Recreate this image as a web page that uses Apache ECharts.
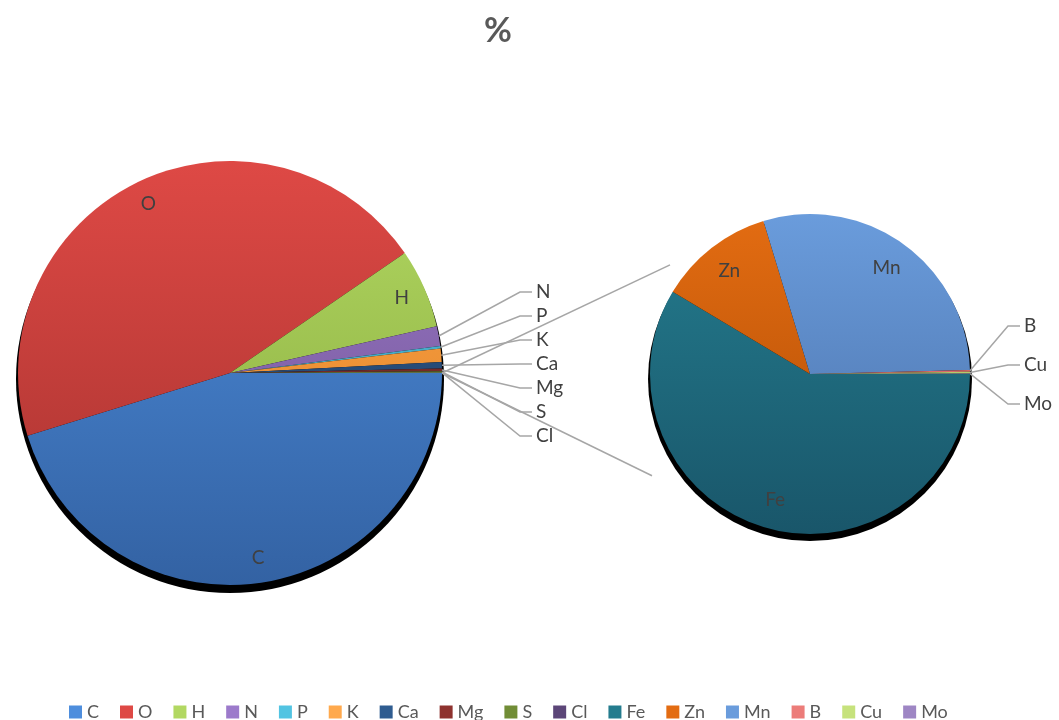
<!DOCTYPE html>
<html>
<head>
<meta charset="utf-8">
<script src="https://cdn.jsdelivr.net/npm/echarts@6/dist/echarts.min.js"></script>
<style>
  html, body { margin: 0; padding: 0; background: #ffffff; }
  #chart { width: 1059px; height: 720px; }
</style>
</head>
<body>
<div id="chart"></div>
<script>
// ---- data ----
const chartTitle = '%';
const mainCategories = ['C', 'O', 'H', 'N', 'P', 'K', 'Ca', 'Mg', 'S', 'Cl'];
const mainValues = [45, 45, 6, 1.5, 0.2, 1.0, 0.5, 0.2, 0.1, 0.01];
const subCategories = ['Fe', 'Zn', 'Mn', 'B', 'Cu', 'Mo'];
const subValues = [0.01, 0.002, 0.005, 0.00003, 0.00003, 0.00001];

// ---- styles ----
const FONT = 'Lato, "Open Sans", sans-serif';
const palette = {
  C: ['#4E8EDD', '#3362A3'], O: ['#DE4945', '#A6322F'], H: ['#B2D862', '#86A83C'],
  N: ['#9C7ACB', '#6B4F8C'], P: ['#52C4E2', '#3890A8'], K: ['#FFA94D', '#DC7B1E'],
  Ca: ['#2F5C90', '#1E3A5E'], Mg: ['#8E322F', '#5C201E'], S: ['#718D36', '#4A5C22'],
  Cl: ['#5C4678', '#3A2B4C'], Fe: ['#247C8E', '#19566A'], Zn: ['#E36C12', '#AE4C04'],
  Mn: ['#6A9CDC', '#4A70A8'], B: ['#EC7C79', '#C55A58'], Cu: ['#C6E27C', '#9AB856'],
  Mo: ['#9E86C4', '#735C98'], Other: ['#cccccc', '#999999']
};
const P1 = { cx: 230, cy: 373, r: 212 };
const P2 = { cx: 810, cy: 374, r: 160 };
const SMALL = 0.05;           // slices below this share get an outside label

function grad(name, p) {
  const c = palette[name];
  return new echarts.graphic.LinearGradient(0, p.cy - p.r, 0, p.cy + p.r, [
    { offset: 0, color: c[0] }, { offset: 1, color: c[1] }
  ], true);
}

const subTotal = subValues.reduce((a, b) => a + b, 0);
const mainTotal = mainValues.reduce((a, b) => a + b, 0) + subTotal;

const labelBase = { color: '#404040', fontSize: 19, fontFamily: FONT };
const leader = { lineStyle: { color: '#A6A6A6', width: 1.5 } };

const mainData = mainCategories.map((n, i) => ({
  name: n, value: mainValues[i],
  itemStyle: { color: grad(n, P1) },
  label: { show: mainValues[i] / mainTotal < SMALL },
  labelLine: { show: mainValues[i] / mainTotal < SMALL }
}));
mainData.push({ name: 'Other', value: subTotal, itemStyle: { color: grad('Other', P1) },
  label: { show: false }, labelLine: { show: false } });

const mainInner = mainCategories.map((n, i) => ({
  name: n, value: mainValues[i],
  label: { show: mainValues[i] / mainTotal >= SMALL }
}));
mainInner.push({ name: 'Other', value: subTotal, label: { show: false } });

const subData = subCategories.map((n, i) => ({
  name: n, value: subValues[i],
  itemStyle: { color: grad(n, P2) },
  label: { show: subValues[i] / subTotal < SMALL },
  labelLine: { show: subValues[i] / subTotal < SMALL }
}));
const subInner = subCategories.map((n, i) => ({
  name: n, value: subValues[i],
  label: { show: subValues[i] / subTotal >= SMALL }
}));

// indices of slices carrying an outside label, used to fan the labels out
const mainOut = mainCategories.map((n, i) => i).filter(i => mainValues[i] / mainTotal < SMALL);
const subOut = subCategories.map((n, i) => i).filter(i => subValues[i] / subTotal < SMALL);

function fan(p, pie, list, spacing, gapX) {
  const rank = list.indexOf(p.dataIndex);
  if (rank < 0 || !p.labelLinePoints) return;
  const y = pie.cy - 9 + (rank - (list.length - 1) / 2) * spacing;
  const x = pie.cx + pie.r + gapX;
  return {
    x: x, y: y, align: 'left', verticalAlign: 'middle',
    labelLinePoints: [p.labelLinePoints[0], [x - 16, y], [x - 4, y]]
  };
}

// connector lines (pie-of-pie series lines) computed from the pie geometry
const sx = P1.cx + P1.r, sy = P1.cy;
const dist = Math.hypot(P2.cx - sx, P2.cy - sy);
const ang = Math.asin(P2.r / dist);
const endX = P2.cx - P2.r * 0.9;
const upY = sy - (endX - sx) * Math.tan(ang);
const dnY = sy + (endX - sx) * Math.tan(ang) * 0.95;

const chart = echarts.init(document.getElementById('chart'), null, { renderer: 'canvas' });
chart.setOption({
  backgroundColor: '#ffffff',
  animation: false,
  title: {
    text: chartTitle, left: 479, top: 9,
    textStyle: { fontSize: 34, fontWeight: 'bold', color: '#595959', fontFamily: FONT }
  },
  legend: {
    data: mainCategories.concat(subCategories),
    left: 64, top: 698, icon: 'rect', itemWidth: 13, itemHeight: 13, itemGap: 21,
    textStyle: { fontSize: 18, color: '#595959', fontFamily: FONT }
  },
  graphic: [
    { type: 'circle', z: -1, shape: { cx: P1.cx, cy: P1.cy + 6, r: P1.r + 2 }, style: { fill: '#000' } },
    { type: 'circle', z: -1, shape: { cx: P2.cx, cy: P2.cy + 5, r: P2.r + 2 }, style: { fill: '#000' } },
    { type: 'line', z: 1, shape: { x1: sx, y1: sy, x2: endX + 4, y2: upY }, style: { stroke: '#A6A6A6', lineWidth: 1.5 } },
    { type: 'line', z: 1, shape: { x1: sx, y1: sy, x2: endX - 14, y2: dnY }, style: { stroke: '#A6A6A6', lineWidth: 1.5 } }
  ],
  series: [
    {
      type: 'pie', center: [P1.cx, P1.cy], radius: P1.r, startAngle: 0, clockwise: true,
      data: mainData, avoidLabelOverlap: true,
      label: Object.assign({ position: 'outside' }, labelBase),
      labelLine: Object.assign({ length: 40, length2: 12 }, leader),
      labelLayout: p => fan(p, P1, mainOut, 24, 94),
      emphasis: { disabled: true }
    },
    {
      type: 'pie', center: [P2.cx, P2.cy], radius: P2.r, startAngle: 0, clockwise: true,
      data: subData, avoidLabelOverlap: true,
      label: Object.assign({ position: 'outside' }, labelBase),
      labelLine: Object.assign({ length: 30, length2: 12 }, leader),
      labelLayout: p => fan(p, P2, subOut, 39, 54),
      emphasis: { disabled: true }
    },
    {
      type: 'pie', center: [P1.cx, P1.cy], radius: [P1.r * 0.74, P1.r], startAngle: 0, clockwise: true,
      data: mainInner, silent: true, legendHoverLink: false,
      itemStyle: { color: 'rgba(0,0,0,0)' },
      label: Object.assign({ position: 'inside' }, labelBase),
      labelLine: { show: false }, emphasis: { disabled: true }
    },
    {
      type: 'pie', center: [P2.cx, P2.cy], radius: [P2.r * 0.6, P2.r], startAngle: 0, clockwise: true,
      data: subInner, silent: true, legendHoverLink: false,
      itemStyle: { color: 'rgba(0,0,0,0)' },
      label: Object.assign({ position: 'inside' }, labelBase),
      labelLine: { show: false }, emphasis: { disabled: true }
    }
  ]
});
</script>
</body>
</html>
